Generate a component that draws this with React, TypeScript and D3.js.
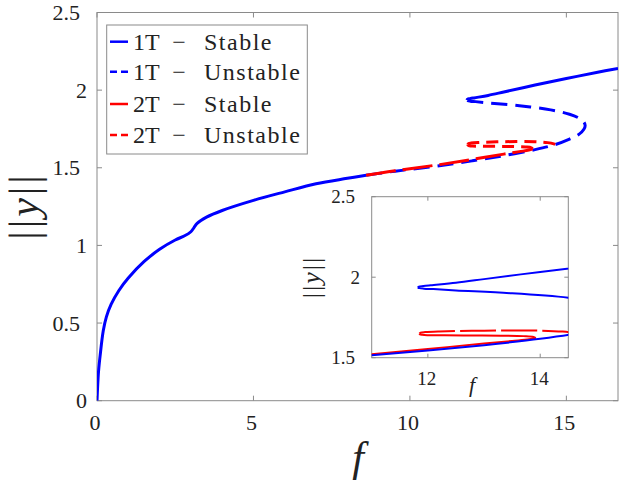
import React from "react";
import * as d3 from "d3";

type P = [number, number];

// 1T branch – stable lower part
const oneTStableLow: P[] = [
  [0, 0], [0.02, 0.09], [0.05, 0.19], [0.1, 0.29], [0.2, 0.45], [0.3, 0.54], [0.45, 0.62],
  [0.7, 0.71], [1.0, 0.79], [1.5, 0.895], [2.0, 0.975], [2.5, 1.035], [2.8, 1.062],
  [3.0, 1.088], [3.1, 1.115], [3.2, 1.142], [3.5, 1.182], [4.0, 1.225], [5.0, 1.29],
  [6.0, 1.345], [7.0, 1.397], [8.0, 1.432], [8.6, 1.452],
];
// 1T branch – unstable part (PD point -> fold -> fold)
const oneTUnstable: P[] = [
  [8.6, 1.452], [9.3, 1.472], [10, 1.49], [11, 1.515], [12, 1.545], [13, 1.578], [14, 1.617],
  [14.65, 1.65], [15.1, 1.685], [15.4, 1.715], [15.56, 1.748], [15.6, 1.772], [15.55, 1.797],
  [15.4, 1.82], [15.1, 1.845], [14.5, 1.873], [13.5, 1.9], [12.5, 1.918], [12.1, 1.926],
  [11.93, 1.929], [11.85, 1.932], [11.82, 1.936],
];
// 1T branch – stable upper part
const oneTStableHigh: P[] = [
  [11.82, 1.936], [11.84, 1.941], [11.92, 1.945], [12.05, 1.95], [12.5, 1.966], [13, 1.988],
  [14, 2.033], [15, 2.075], [16, 2.115], [16.65, 2.14],
];
// 2T branch – stable part
const twoTStable: P[] = [
  [8.6, 1.452], [9.3, 1.474], [10, 1.494], [11, 1.522], [12, 1.554], [13, 1.588], [13.5, 1.604],
  [13.8, 1.614], [13.92, 1.622],
];
// 2T branch – unstable return part (fold -> fold)
const twoTUnstableMid: P[] = [
  [13.92, 1.622], [13.88, 1.629], [13.7, 1.634], [13.3, 1.637], [12.8, 1.638], [12.3, 1.639],
  [12.0, 1.64], [11.9, 1.642], [11.86, 1.645], [11.85, 1.65],
];
// 2T branch – unstable upper part (fold -> PD point)
const twoTUnstableTop: P[] = [
  [11.85, 1.65], [11.87, 1.655], [11.95, 1.659], [12.2, 1.663], [13, 1.668], [14, 1.668],
  [14.4, 1.662], [14.6, 1.654], [14.65, 1.65],
];

const xTicks = [0, 5, 10, 15];
const yTicks = [0, 0.5, 1, 1.5, 2, 2.5];
const xTicksInset = [12, 14];
const yTicksInset = [1.5, 2, 2.5];
const legendItems = [
  { label: "1T", state: "Stable", color: "#0000ff", dashed: false },
  { label: "1T", state: "Unstable", color: "#0000ff", dashed: true },
  { label: "2T", state: "Stable", color: "#ff0000", dashed: false },
  { label: "2T", state: "Unstable", color: "#ff0000", dashed: true },
];

const BLUE = "#0000ff";
const RED = "#ff0000";
const AX = "#8a8a8a";
const FONT = "'Liberation Serif'";

const fmt = (v: number) => String(v);

export default function App() {
  const W = 623, H = 483;
  const x = d3.scaleLinear().domain([0, 16.65]).range([97, 618]);
  const y = d3.scaleLinear().domain([0, 2.5]).range([400.7, 12.5]);
  const xi = d3.scaleLinear().domain([11, 14.5]).range([371.7, 568.3]);
  const yi = d3.scaleLinear().domain([1.5, 2.5]).range([357.7, 196.7]);

  const line = d3.line<P>().x((d) => x(d[0])).y((d) => y(d[1])).curve(d3.curveCatmullRom.alpha(0.5));
  const lineI = d3.line<P>().x((d) => xi(d[0])).y((d) => yi(d[1])).curve(d3.curveCatmullRom.alpha(0.5));

  const [x0, x1] = x.range();
  const [y0, y1] = y.range();
  const [ix0, ix1] = xi.range();
  const [iy0, iy1] = yi.range();

  const ts = { fontFamily: FONT };

  return (
    <div style={{ position: "absolute", left: 0, top: 0 }}>
      <svg width={W} height={H} style={{ display: "block", background: "#fff" }}>
        <defs>
          <clipPath id="mainClip">
            <rect x={x0} y={y1} width={x1 - x0} height={y0 - y1} />
          </clipPath>
          <clipPath id="insetClip">
            <rect x={ix0} y={iy1} width={ix1 - ix0} height={iy0 - iy1} />
          </clipPath>
        </defs>

        {/* main axes box */}
        <rect x={x0} y={y1} width={x1 - x0} height={y0 - y1} fill="none" stroke={AX} strokeWidth={1} />
        {xTicks.map((t) => (
          <g key={"xt" + t}>
            <line x1={x(t)} x2={x(t)} y1={y0} y2={y0 - 5} stroke={AX} />
            <line x1={x(t)} x2={x(t)} y1={y1} y2={y1 + 5} stroke={AX} />
            <text style={ts} x={x(t) - 2} y={430} fontSize={22} textAnchor="middle" fill="#222">{fmt(t)}</text>
          </g>
        ))}
        {yTicks.map((t) => (
          <g key={"yt" + t}>
            <line x1={x0} x2={x0 + 5} y1={y(t)} y2={y(t)} stroke={AX} />
            <line x1={x1} x2={x1 - 5} y1={y(t)} y2={y(t)} stroke={AX} />
            <text style={ts} x={Number.isInteger(t) ? 87 : 80} y={y(t)} dy="0.35em" fontSize={22} textAnchor="end" fill="#222">{fmt(t)}</text>
          </g>
        ))}

        {/* curves */}
        <g clipPath="url(#mainClip)" fill="none" strokeLinecap="butt">
          <path d={line(oneTStableLow)!} stroke={BLUE} strokeWidth={3} />
          <path d={line(oneTUnstable)!} stroke={BLUE} strokeWidth={3} strokeDasharray="16,8" />
          <path d={line(oneTStableHigh)!} stroke={BLUE} strokeWidth={3} />
          <path d={line(twoTStable)!} stroke={RED} strokeWidth={3} strokeDasharray="30,7" />
          <path d={line(twoTUnstableMid)!} stroke={RED} strokeWidth={3} strokeDasharray="12,7" />
          <path d={line(twoTUnstableTop)!} stroke={RED} strokeWidth={3} strokeDasharray="12,7" />
        </g>

        {/* axis labels */}
        <text style={ts} x={358} y={471} fontSize={42} fontStyle="italic" textAnchor="middle" fill="#222">f</text>
        <text style={ts} transform="translate(38,206) rotate(-90)" fontSize={42} textAnchor="middle" letterSpacing={3} fill="#222">
          ||<tspan fontStyle="italic">y</tspan>||
        </text>

        {/* legend */}
        <rect x={106.7} y={25} width={200.6} height={129} fill="#fff" stroke={AX} strokeWidth={1} />
        {legendItems.map((d, i) => {
          const cy = [41.7, 71.7, 104, 135][i];
          return (
            <g key={"lg" + i}>
              <line x1={110} x2={128} y1={cy} y2={cy} stroke={d.color} strokeWidth={2.5}
                strokeDasharray={d.dashed ? "7,4" : undefined} />
              <text style={ts} x={133} y={cy} dy="0.35em" fontSize={24} fill="#222">{d.label}</text>
              <text style={ts} x={179} y={cy} dy="0.35em" fontSize={24} fill="#222" textAnchor="middle">−</text>
              <text style={ts} x={204} y={cy} dy="0.35em" fontSize={24} fill="#222" letterSpacing={1.5}>{d.state}</text>
            </g>
          );
        })}

        {/* inset */}
        <rect x={ix0} y={iy1} width={ix1 - ix0} height={iy0 - iy1} fill="#fff" stroke={AX} strokeWidth={1} />
        <g clipPath="url(#insetClip)" fill="none">
          <path d={lineI(twoTStable)!} stroke={RED} strokeWidth={2} />
          <path d={lineI(twoTUnstableMid)!} stroke={RED} strokeWidth={2} />
          <path d={lineI(twoTUnstableTop)!} stroke={RED} strokeWidth={2} strokeDasharray="36,5" />
          <path d={lineI(oneTStableLow)!} stroke={BLUE} strokeWidth={2} />
          <path d={lineI(oneTUnstable)!} stroke={BLUE} strokeWidth={2} />
          <path d={lineI(oneTStableHigh)!} stroke={BLUE} strokeWidth={2} />
        </g>
        {xTicksInset.map((t) => (
          <g key={"ixt" + t}>
            <line x1={xi(t)} x2={xi(t)} y1={iy0} y2={iy0 - 4} stroke={AX} />
            <line x1={xi(t)} x2={xi(t)} y1={iy1} y2={iy1 + 4} stroke={AX} />
            <text style={ts} x={xi(t) - 1} y={385} fontSize={19} textAnchor="middle" fill="#222">{fmt(t)}</text>
          </g>
        ))}
        {yTicksInset.map((t) => (
          <g key={"iyt" + t}>
            <line x1={ix0} x2={ix0 + 4} y1={yi(t)} y2={yi(t)} stroke={AX} />
            <line x1={ix1} x2={ix1 - 4} y1={yi(t)} y2={yi(t)} stroke={AX} />
            <text style={ts} x={Number.isInteger(t) ? 360 : 355} y={yi(t)} dy="0.35em" fontSize={19} textAnchor="end" fill="#222">{fmt(t)}</text>
          </g>
        ))}
        <text style={ts} x={472} y={392} fontSize={22} fontStyle="italic" textAnchor="middle" fill="#222">f</text>
        <text style={ts} transform="translate(320,277) rotate(-90)" fontSize={26} textAnchor="middle" letterSpacing={2} fill="#222">
          ||<tspan fontStyle="italic">y</tspan>||
        </text>
      </svg>
    </div>
  );
}
